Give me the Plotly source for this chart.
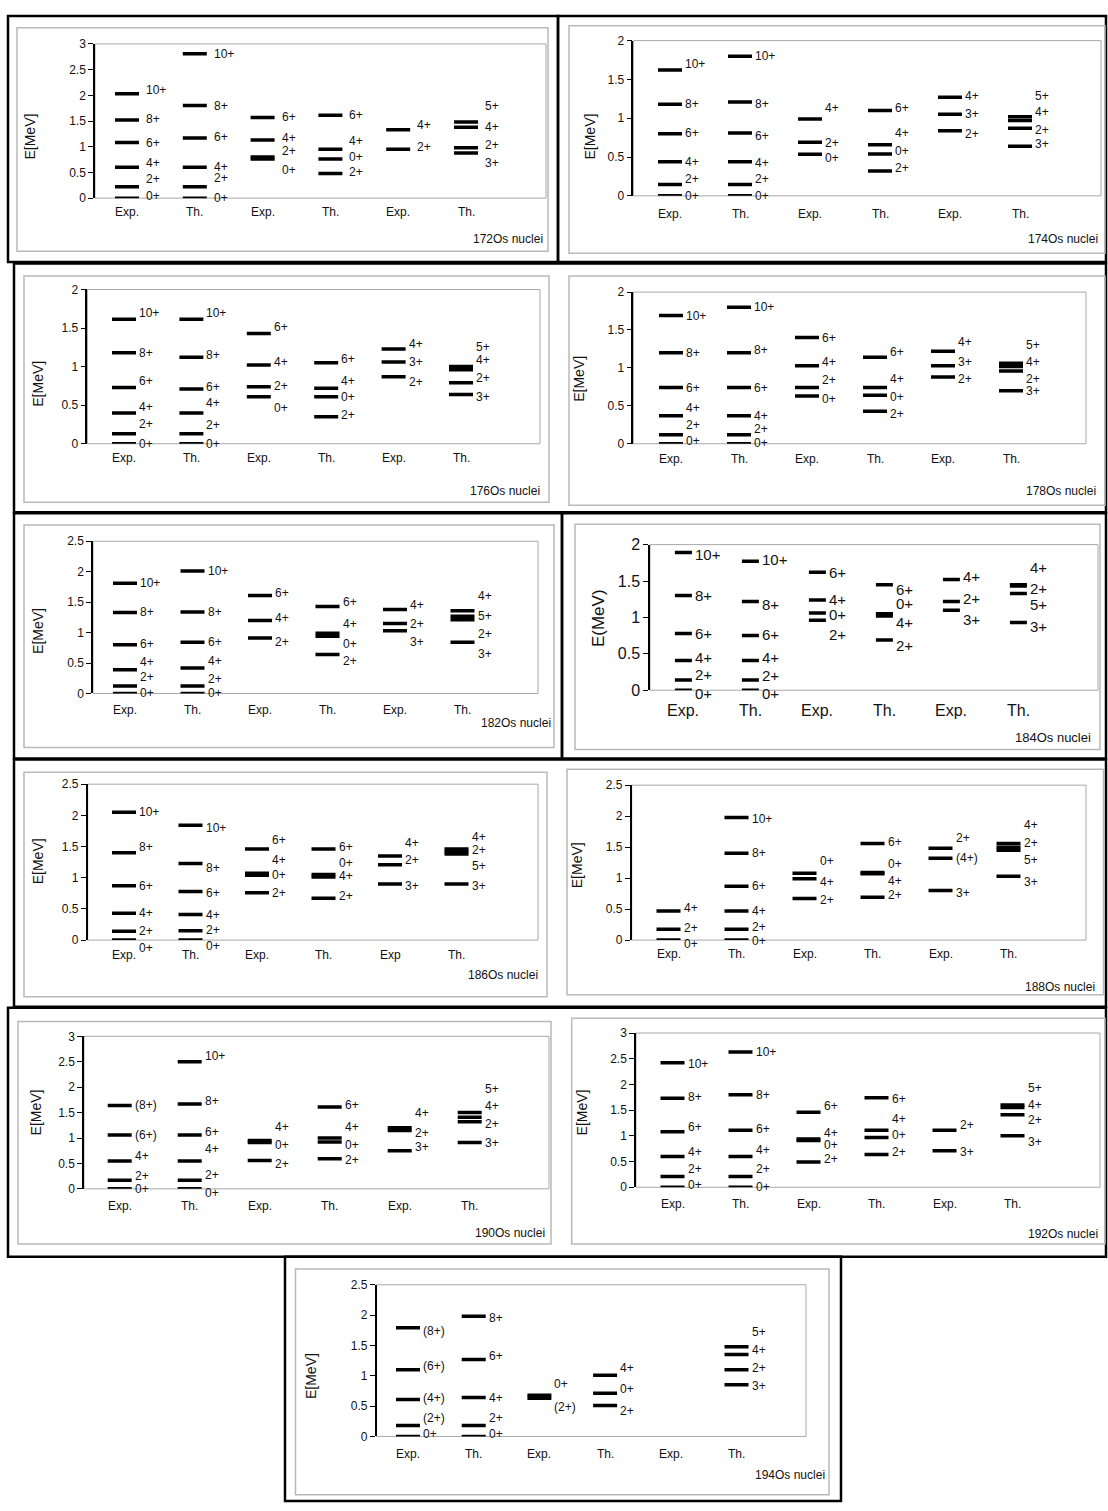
import plotly.graph_objects as go

# ---------------------------------------------------------------------------
# Level energies (MeV), spin labels and label heights (MeV), per nucleus.
# Each nucleus has six columns: Exp./Th. for ground, beta and gamma bands.
# ---------------------------------------------------------------------------
CATS = ["Exp.", "Th.", "Exp.", "Th.", "Exp.", "Th."]
CATS_186 = ["Exp.", "Th.", "Exp.", "Th.", "Exp", "Th."]
GSB = ["10+", "8+", "6+", "4+", "2+", "0+"]

E172 = [[2.03, 1.52, 1.08, 0.60, 0.22, 0.0], [2.81, 1.80, 1.17, 0.60, 0.22, 0.0],
        [1.57, 1.13, 0.80, 0.76], [1.61, 0.95, 0.76, 0.48], [1.33, 0.95],
        [1.48, 1.38, 0.98, 0.88]]
J172 = [GSB, GSB, ["6+", "4+", "2+", "0+"], ["6+", "4+", "0+", "2+"], ["4+", "2+"],
        ["5+", "4+", "2+", "3+"]]
Y172 = [[2.10, 1.54, 1.08, 0.68, 0.37, 0.05], [2.81, 1.80, 1.19, 0.61, 0.39, 0.0],
        [1.57, 1.16, 0.91, 0.55], [1.62, 1.11, 0.80, 0.50], [1.43, 0.99],
        [1.80, 1.38, 1.03, 0.69]]

E174 = [[1.62, 1.18, 0.80, 0.44, 0.145, 0.0], [1.80, 1.21, 0.81, 0.44, 0.145, 0.0],
        [0.99, 0.69, 0.535], [1.10, 0.66, 0.54, 0.32], [1.27, 1.05, 0.84],
        [1.02, 0.97, 0.87, 0.64]]
J174 = [GSB, GSB, ["4+", "2+", "0+"], ["6+", "4+", "0+", "2+"], ["4+", "3+", "2+"],
        ["5+", "4+", "2+", "3+"]]
Y174 = [[1.70, 1.18, 0.81, 0.44, 0.22, 0.0], [1.80, 1.18, 0.77, 0.42, 0.22, 0.0],
        [1.13, 0.68, 0.49], [1.13, 0.81, 0.58, 0.36], [1.29, 1.05, 0.80],
        [1.29, 1.08, 0.85, 0.67]]

E176 = [[1.615, 1.18, 0.73, 0.40, 0.13, 0.0], [1.615, 1.12, 0.71, 0.40, 0.13, 0.0],
        [1.43, 1.02, 0.74, 0.61], [1.05, 0.72, 0.61, 0.35], [1.23, 1.06, 0.87],
        [1.00, 0.96, 0.79, 0.64]]
J176 = [GSB, GSB, ["6+", "4+", "2+", "0+"], ["6+", "4+", "0+", "2+"], ["4+", "3+", "2+"],
        ["5+", "4+", "2+", "3+"]]
Y176 = [[1.70, 1.18, 0.82, 0.47, 0.26, 0.0], [1.70, 1.15, 0.73, 0.53, 0.24, 0.0],
        [1.51, 1.06, 0.75, 0.46], [1.10, 0.82, 0.61, 0.37], [1.29, 1.06, 0.80],
        [1.25, 1.08, 0.85, 0.61]]

E178 = [[1.69, 1.20, 0.74, 0.37, 0.12, 0.0], [1.80, 1.20, 0.74, 0.37, 0.12, 0.0],
        [1.40, 1.03, 0.74, 0.63], [1.14, 0.74, 0.64, 0.43], [1.22, 1.03, 0.88],
        [1.06, 1.02, 0.96, 0.70]]
J178 = [GSB, GSB, ["6+", "4+", "2+", "0+"], ["6+", "4+", "0+", "2+"], ["4+", "3+", "2+"],
        ["5+", "4+", "2+", "3+"]]
Y178 = [[1.69, 1.19, 0.74, 0.47, 0.25, 0.03], [1.80, 1.24, 0.74, 0.37, 0.19, 0.01],
        [1.40, 1.08, 0.84, 0.59], [1.21, 0.85, 0.62, 0.39], [1.34, 1.08, 0.86],
        [1.30, 1.08, 0.86, 0.69]]

E182 = [[1.81, 1.33, 0.80, 0.39, 0.125, 0.0], [2.01, 1.34, 0.84, 0.42, 0.125, 0.0],
        [1.61, 1.20, 0.91], [1.43, 0.99, 0.94, 0.64], [1.38, 1.15, 1.03],
        [1.36, 1.27, 1.21, 0.84]]
J182 = [GSB, GSB, ["6+", "4+", "2+"], ["6+", "4+", "0+", "2+"], ["4+", "2+", "3+"],
        ["4+", "5+", "2+", "3+"]]
Y182 = [[1.82, 1.34, 0.81, 0.51, 0.27, 0.01], [2.01, 1.34, 0.84, 0.53, 0.24, 0.01],
        [1.65, 1.24, 0.85], [1.50, 1.14, 0.82, 0.54], [1.46, 1.14, 0.85],
        [1.60, 1.27, 0.97, 0.65]]

E184 = [[1.89, 1.30, 0.78, 0.41, 0.14, 0.0], [1.77, 1.22, 0.75, 0.41, 0.14, 0.0],
        [1.62, 1.24, 1.06, 0.96], [1.45, 1.05, 1.02, 0.69], [1.52, 1.22, 1.10],
        [1.45, 1.43, 1.33, 0.93]]
J184 = [GSB, GSB, ["6+", "4+", "0+", "2+"], ["6+", "0+", "4+", "2+"], ["4+", "2+", "3+"],
        ["4+", "2+", "5+", "3+"]]
Y184 = [[1.86, 1.30, 0.78, 0.45, 0.21, -0.05], [1.79, 1.18, 0.76, 0.45, 0.20, -0.05],
        [1.62, 1.24, 1.04, 0.77], [1.38, 1.19, 0.93, 0.61], [1.56, 1.26, 0.97],
        [1.68, 1.40, 1.18, 0.88]]

E186 = [[2.05, 1.40, 0.87, 0.43, 0.14, 0.0], [1.84, 1.23, 0.78, 0.41, 0.15, 0.0],
        [1.46, 1.07, 1.04, 0.76], [1.46, 1.05, 1.01, 0.67], [1.35, 1.21, 0.90],
        [1.46, 1.42, 1.38, 0.90]]
J186 = [GSB, GSB, ["6+", "4+", "0+", "2+"], ["6+", "0+", "4+", "2+"], ["4+", "2+", "3+"],
        ["4+", "2+", "5+", "3+"]]
Y186 = [[2.05, 1.50, 0.86, 0.44, 0.15, -0.12], [1.79, 1.15, 0.76, 0.41, 0.16, -0.09],
        [1.60, 1.28, 1.04, 0.76], [1.50, 1.23, 1.02, 0.70], [1.55, 1.28, 0.86],
        [1.65, 1.44, 1.18, 0.86]]

E188 = [[0.47, 0.175, 0.0], [1.98, 1.40, 0.87, 0.47, 0.175, 0.0],
        [1.08, 0.99, 0.67], [1.56, 1.09, 1.07, 0.69], [1.48, 1.32, 0.80],
        [1.56, 1.50, 1.45, 1.03]]
J188 = [["4+", "2+", "0+"], GSB, ["0+", "4+", "2+"], ["6+", "0+", "4+", "2+"],
        ["2+", "(4+)", "3+"], ["4+", "2+", "5+", "3+"]]
Y188 = [[0.51, 0.19, -0.06], [1.96, 1.40, 0.87, 0.47, 0.21, -0.02],
        [1.28, 0.94, 0.64], [1.59, 1.22, 0.96, 0.73], [1.64, 1.32, 0.76],
        [1.85, 1.56, 1.29, 0.94]]

E190 = [[1.64, 1.06, 0.55, 0.17, 0.0], [2.50, 1.67, 1.06, 0.55, 0.17, 0.0],
        [0.95, 0.91, 0.56], [1.61, 1.00, 0.92, 0.59], [1.20, 1.15, 0.75],
        [1.50, 1.41, 1.32, 0.91]]
J190 = [["(8+)", "(6+)", "4+", "2+", "0+"], GSB, ["4+", "0+", "2+"],
        ["6+", "4+", "0+", "2+"], ["4+", "2+", "3+"], ["5+", "4+", "2+", "3+"]]
Y190 = [[1.64, 1.06, 0.64, 0.25, -0.01], [2.62, 1.72, 1.11, 0.78, 0.28, -0.08],
        [1.22, 0.87, 0.49], [1.65, 1.22, 0.87, 0.57], [1.50, 1.09, 0.83],
        [1.96, 1.63, 1.28, 0.91]]

E192 = [[2.42, 1.73, 1.08, 0.60, 0.21, 0.0], [2.63, 1.80, 1.11, 0.60, 0.21, 0.0],
        [1.46, 0.94, 0.91, 0.49], [1.74, 1.11, 0.97, 0.64], [1.11, 0.71],
        [1.60, 1.55, 1.41, 1.00]]
J192 = [GSB, GSB, ["6+", "4+", "0+", "2+"], ["6+", "4+", "0+", "2+"], ["2+", "3+"],
        ["5+", "4+", "2+", "3+"]]
Y192 = [[2.39, 1.75, 1.17, 0.69, 0.36, 0.05], [2.63, 1.80, 1.13, 0.72, 0.36, 0.0],
        [1.59, 1.06, 0.82, 0.55], [1.71, 1.32, 1.01, 0.69], [1.22, 0.69],
        [1.94, 1.60, 1.30, 0.88]]

E194 = [[1.79, 1.10, 0.61, 0.18, 0.0], [1.98, 1.27, 0.64, 0.18, 0.0],
        [0.68, 0.63], [1.01, 0.71, 0.51], [], [1.48, 1.35, 1.10, 0.85]]
J194 = [["(8+)", "(6+)", "(4+)", "(2+)", "0+"], ["8+", "6+", "4+", "2+", "0+"],
        ["0+", "(2+)"], ["4+", "0+", "2+"], [], ["5+", "4+", "2+", "3+"]]
Y194 = [[1.74, 1.16, 0.64, 0.30, 0.04], [1.95, 1.32, 0.64, 0.30, 0.04],
        [0.86, 0.48], [1.13, 0.79, 0.42], [], [1.72, 1.43, 1.13, 0.83]]

# ---------------------------------------------------------------------------
# Page geometry (pixels) for each panel
# ---------------------------------------------------------------------------
W, H = 1108, 1511
FONT = "Liberation Sans, Arial, sans-serif"

PANELS = [
    dict(tag="172Os nuclei", E=E172, J=J172, Y=Y172, cats=CATS, ymax=3,
         gray=(17, 20, 548, 246), plot=(95, 36.3, 546, 192.3), c1=127, sp=67.8,
         title=(30, 130), tagpos=(545, 234), caty=206),
    dict(tag="174Os nuclei", E=E174, J=J174, Y=Y174, cats=CATS, ymax=2,
         gray=(569, 18, 1105, 248), plot=(633.4, 33, 1101, 190), c1=670, sp=70,
         title=(590, 130), tagpos=(1100, 234), caty=208),
    dict(tag="176Os nuclei", E=E176, J=J176, Y=Y176, cats=CATS, ymax=2,
         gray=(24, 271, 549, 500), plot=(87.4, 284.7, 540, 440.7), c1=124, sp=67.4,
         title=(38, 380), tagpos=(541.7, 488), caty=455),
    dict(tag="178Os nuclei", E=E178, J=J178, Y=Y178, cats=CATS, ymax=2,
         gray=(569, 271, 1105, 503), plot=(633.4, 287.3, 1086, 440.7), c1=671, sp=68,
         title=(579, 375), tagpos=(1098, 488), caty=456),
    dict(tag="182Os nuclei", E=E182, J=J182, Y=Y182, cats=CATS, ymax=2.5,
         gray=(24, 523, 554, 748), plot=(93, 539.3, 538, 693.3), c1=125, sp=67.5,
         title=(38, 630), tagpos=(553, 723), caty=710),
    dict(tag="184Os nuclei", E=E184, J=J184, Y=Y184, cats=CATS, ymax=2,
         gray=(575, 522, 1100, 750), plot=(650, 542.7, 1098, 690), c1=683.4, sp=67,
         title=(598, 617), tagpos=(1093, 738), caty=710, big=True,
         ytitle="E(MeV)"),
    dict(tag="186Os nuclei", E=E186, J=J186, Y=Y186, cats=CATS_186, ymax=2.5,
         gray=(24, 773, 547, 1000), plot=(87.7, 785, 538, 942.7), c1=124, sp=66.5,
         title=(38, 863), tagpos=(540, 978), caty=958),
    dict(tag="188Os nuclei", E=E188, J=J188, Y=Y188, cats=CATS, ymax=2.5,
         gray=(567, 770, 1103.5, 998), plot=(631.7, 786, 1086, 942.7), c1=668.5, sp=68,
         title=(577, 867), tagpos=(1096.5, 990), caty=957),
    dict(tag="190Os nuclei", E=E190, J=J190, Y=Y190, cats=CATS, ymax=3,
         gray=(18, 1025, 551, 1250), plot=(84, 1040, 549, 1194.3), c1=119.7, sp=70,
         title=(36, 1117), tagpos=(547, 1239), caty=1212),
    dict(tag="192Os nuclei", E=E192, J=J192, Y=Y192, cats=CATS, ymax=3,
         gray=(571.7, 1021.7, 1105, 1250), plot=(636, 1036.7, 1100, 1192.7), c1=672.5,
         sp=68, title=(582, 1117), tagpos=(1100, 1240), caty=1210),
    dict(tag="194Os nuclei", E=E194, J=J194, Y=Y194, cats=CATS, ymax=2.5,
         gray=(295.5, 1275.3, 829, 1503.7), plot=(376.6, 1291.3, 806, 1444.7), c1=408,
         sp=65.7, title=(311.6, 1384), tagpos=(827, 1484), caty=1462),
]

# table-cell frames around the panels
CELLS = [(8, 8, 558, 257), (558, 8, 1106, 257), (14, 258.5, 1106, 510),
         (14, 511, 562, 759), (562, 511, 1106, 759), (14, 760, 1106, 1010),
         (8, 1011, 1106, 1263), (285, 1263, 841, 1510)]


def px(x):
    return x / W


def py(y):
    return 1 - y / H


fig = go.Figure()
layout = dict(width=W, height=H, margin=dict(l=0, r=0, t=0, b=0),
              paper_bgcolor="white", plot_bgcolor="white", showlegend=False)
shapes, annotations = [], []

for c in CELLS:
    shapes.append(dict(type="rect", xref="paper", yref="paper",
                       x0=px(c[0]), x1=px(c[2]), y0=py(c[3]), y1=py(c[1]),
                       line=dict(color="black", width=2.5), layer="below"))

for i, p in enumerate(PANELS, start=1):
    big = p.get("big", False)
    fs_tick = 16 if big else 12
    fs_lab = 15 if big else 12
    fs_cat = 16 if big else 12
    fs_title = 17 if big else 14
    hw = (8.5 if big else 12) / p["sp"]
    gap = (6 if i == 1 else 2) / p["sp"]
    sfx = "" if i == 1 else str(i)
    l, t, r, b = p["plot"]
    x0 = 1 + (l - p["c1"]) / p["sp"]
    x1 = 1 + (r - p["c1"]) / p["sp"]
    ymax = p["ymax"]

    layout["xaxis" + sfx] = dict(domain=[px(l), px(r)], range=[x0, x1], anchor="y" + sfx,
                                 showgrid=False, zeroline=False, showline=False,
                                 showticklabels=False, ticks="", fixedrange=True)
    layout["yaxis" + sfx] = dict(domain=[py(b), py(t)], range=[0, ymax],
                                 anchor="x" + sfx, dtick=0.5, tick0=0,
                                 showgrid=False, zeroline=False, showline=True,
                                 linecolor="black", linewidth=1.5, ticks="outside",
                                 ticklen=5, tickwidth=1.2, tickcolor="black",
                                 tickfont=dict(size=fs_tick, color="#111", family=FONT),
                                 fixedrange=True)

    # chart-area frame and plot-area frame
    g = p["gray"]
    shapes.append(dict(type="rect", xref="paper", yref="paper",
                       x0=px(g[0]), x1=px(g[2]), y0=py(g[3]), y1=py(g[1]),
                       line=dict(color="#b9b9b9", width=1.5), layer="below"))
    shapes.append(dict(type="rect", xref="x" + sfx + " domain", yref="y" + sfx + " domain",
                       x0=0, x1=1, y0=0, y1=1,
                       line=dict(color="#a8a8a8", width=1), layer="below"))

    # energy levels
    bx, by = [], []
    for ci, energies in enumerate(p["E"]):
        col = ci + 1
        for e in energies:
            bx += [col - hw, col + hw, None]
            by += [e, e, None]
    fig.add_trace(go.Scatter(x=bx, y=by, mode="lines", xaxis="x" + sfx, yaxis="y" + sfx,
                             line=dict(color="black", width=3.5), hoverinfo="skip"))

    # spin labels (may sit slightly below the axis floor, so placed on the page)
    ylo, yhi = py(b), py(t)
    for ci, (spins, heights) in enumerate(zip(p["J"], p["Y"])):
        col = ci + 1
        for s, h in zip(spins, heights):
            annotations.append(dict(xref="x" + sfx, yref="paper", x=col + hw + gap,
                                    y=ylo + (yhi - ylo) * h / ymax, text=s,
                                    showarrow=False, xanchor="left", yanchor="middle",
                                    borderpad=0,
                                    font=dict(size=fs_lab, color="#111", family=FONT)))

    # column captions
    for ci, cat in enumerate(p["cats"]):
        annotations.append(dict(xref="x" + sfx, yref="paper", x=ci + 1, y=py(p["caty"]),
                                text=cat, showarrow=False, xanchor="center",
                                yanchor="middle",
                                font=dict(size=fs_cat, color="#111", family=FONT)))
    # axis title
    annotations.append(dict(xref="paper", yref="paper", x=px(p["title"][0]),
                            y=py(p["title"][1]), text=p.get("ytitle", "E[MeV]"),
                            textangle=-90, showarrow=False, xanchor="center",
                            yanchor="middle",
                            font=dict(size=fs_title, color="#111", family=FONT)))
    # nucleus tag
    annotations.append(dict(xref="paper", yref="paper", x=px(p["tagpos"][0]),
                            y=py(p["tagpos"][1]), text=p["tag"], showarrow=False,
                            xanchor="right", yanchor="middle",
                            font=dict(size=13 if big else 12, color="#111", family=FONT)))

layout["shapes"] = shapes
layout["annotations"] = annotations
fig.update_layout(**layout)
fig.write_html("out.html")
